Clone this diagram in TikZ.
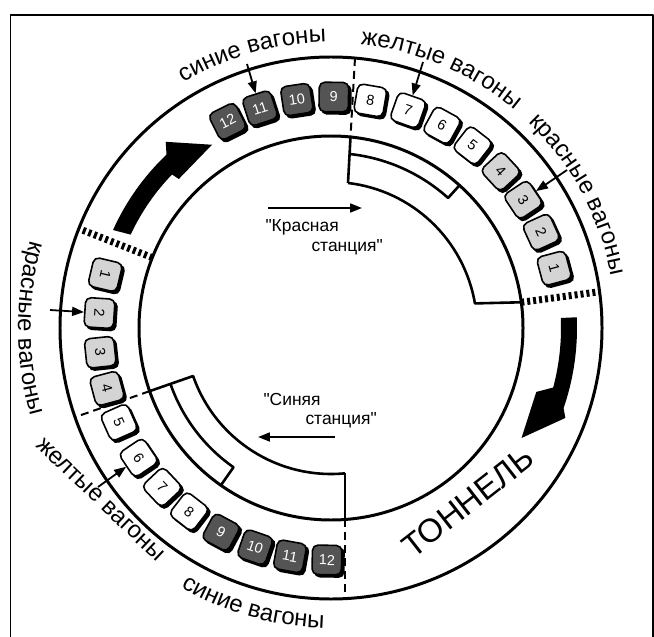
\documentclass[tikz,border=0pt]{standalone}
\usepackage{fontspec}
\setmainfont{Liberation Sans}
\newfontfamily\stfam{Liberation Sans}[Ligatures=TeXOff]
\usetikzlibrary{arrows.meta,decorations.text,calc}
\definecolor{darkcar}{gray}{0.33}
\definecolor{lightcar}{gray}{0.83}
\newcommand\lblfont{\fontsize{24}{24}\selectfont}
\newcommand\stfont{\stfam\fontsize{17.5}{20}\selectfont}
\tikzset{
 ring/.style={line width=3},
 track/.style={line width=2.6},
 divdash/.style={line width=2, dash pattern=on 8 off 5},
 divdot/.style={line width=7, dash pattern=on 3 off 3},
 carbox/.style={draw=black, line width=1.6, rounded corners=5.5, minimum size=29.5, inner sep=0, font=\fontsize{14.5}{14.5}\selectfont},
 carshadow/.style={fill=black, rounded corners=5.5, minimum size=30.5, inner sep=0},
 lblarrow/.style={line width=1.8, -{Triangle[length=12,width=9]}},
 curvedlabel/.style={decorate, decoration={text along path, text align=center, text={#1}}},
}
\begin{document}
\begin{tikzpicture}[x=1bp,y=-1bp,line join=round]
\useasboundingbox (0,0) rectangle (654,637);
\draw[line width=1.5] (10.5,637) -- (10.5,15) -- (653,15) -- (653,637);
\coordinate (C) at (331,328);
\begin{scope}[shift={(C)}]
 \draw[ring] (0,0) circle[radius=271];
 \draw[ring] (0,0) circle[radius=192];
 % red station
 \draw[track] (-83.3:146) arc[start angle=-83.3,end angle=-9.7,radius=146] -- (-7.7:192);
 \draw[track] (-83.9:175) arc[start angle=-83.9,end angle=-48,radius=175] -- (-48:192);
 % blue station
 \draw[track] (-199.2:192) -- (-199.2:146) arc[start angle=-199.2,end angle=-275.5,radius=146];
 \draw[track] (-199.2:170) arc[start angle=-199.2,end angle=-235,radius=170] -- (-235:192);
 \draw[divdash] (-199.2:192) -- (-199.2:271);
 \draw[divdot] (-158.5:192) -- (-158.5:271);
 \draw[divdot] (-7.7:192) -- (-7.7:271);
 % big arrows
 \fill (-2.5:246) arc[start angle=-2.5,end angle=19,radius=246] -- (21:251) -- (30:220) -- (17.3:215) -- (15:230) arc[start angle=15,end angle=-2.5,radius=230] -- cycle;
 \fill (-155:221) arc[start angle=-155,end angle=-136,radius=221] -- (-135.6:213) -- (-123:218.5) -- (-131.6:249) -- (-133.5:239) arc[start angle=-133.5,end angle=-155.8,radius=239] -- cycle;
 % curved labels
 \path[curvedlabel={|\lblfont|синие вагоны}] (-136:286) arc[start angle=-136,end angle=-76,radius=286];
 \path[curvedlabel={|\lblfont|желтые вагоны}] (-97:285) arc[start angle=-97,end angle=-37,radius=285];
 \path[curvedlabel={|\lblfont|красные вагоны}] (-58.4:285) arc[start angle=-58.4,end angle=1.6,radius=285];
 \path[curvedlabel={|\lblfont|красные вагоны}] (-150:313) arc[start angle=-150,end angle=-210,radius=313];
 \path[curvedlabel={|\lblfont|синие вагоны}] (-224.3:300) arc[start angle=-224.3,end angle=-284.3,radius=300];
\end{scope}
% station end lines
\draw[divdash] (355,58) -- (350.5,137);
\draw[track] (350.5,137) -- (348,183);
\draw[track] (345,473) -- (345,519.5);
\draw[divdash] (345,519.5) -- (345,598.6);
% wagons, upper group
\foreach \k/\a in {1/15.0,2/24.5,3/33.7,4/42.7,5/52.2,6/61.3,7/70.5,8/80.2,9/89.3,10/98.5,11/107.9,12/116.6}{
  \pgfmathsetmacro\rot{\a-90}
  \ifnum\k<5 \def\fc{lightcar}\def\tc{black}\else\ifnum\k<9 \def\fc{white}\def\tc{black}\else\def\fc{darkcar}\def\tc{white}\fi\fi
  \path (C) ++(-\a:231) coordinate (t\k);
  \node[carshadow, rotate=\rot] (ts\k) at ([shift={(2.5,2.5)}]t\k) {};
  \node[carbox, fill=\fc, text=\tc, rotate=\rot] (tw\k) at (t\k) {\k};
}
% wagons, lower group
\foreach \k/\a in {1/166.7,2/176.3,3/186.0,4/195.1,5/204.0,6/214.0,7/223.3,8/232.3,9/241.7,10/250.9,11/259.8,12/269.0}{
  \pgfmathsetmacro\rot{\a+90}
  \ifnum\k<5 \def\fc{lightcar}\def\tc{black}\else\ifnum\k<9 \def\fc{white}\def\tc{black}\else\def\fc{darkcar}\def\tc{white}\fi\fi
  \path (C) ++(-\a:232) coordinate (b\k);
  \node[carshadow, rotate=\rot] (bs\k) at ([shift={(2.5,2.5)}]b\k) {};
  \node[carbox, fill=\fc, text=\tc, rotate=\rot] (bw\k) at (b\k) {\k};
}
% straight labels
\node[rotate=-43.6, anchor=base, font=\lblfont] (lblyb) at (96,504) {желтые вагоны};
\node[rotate=38, font=\fontsize{33}{33}\selectfont] (tunnel) at (468,502) {ТОННЕЛЬ};
\node[anchor=base west, font=\stfont] (rs1) at (262,231) {"Красная};
\node[anchor=base west, font=\stfont] (rs2) at (308,251) {станция"};
\node[anchor=base west, font=\stfont] (bsl1) at (260,405) {"Синяя};
\node[anchor=base west, font=\stfont] (bsl2) at (302,424) {станция"};
% label arrows
\coordinate (ra1) at (268,208); \coordinate (ra2) at (362,208);
\draw[lblarrow] (ra1) -- (ra2);
\coordinate (ba1) at (335,437); \coordinate (ba2) at (258,437);
\draw[lblarrow] (ba1) -- (ba2);
\coordinate (p1) at (247,64); \draw[lblarrow] (p1) -- (tw11);
\coordinate (p2) at (423,62); \draw[lblarrow] (p2) -- (tw7);
\coordinate (p3) at (567,170); \draw[lblarrow] (p3) -- (tw3);
\coordinate (p4) at (50,310); \draw[lblarrow] (p4) -- (bw2);
\coordinate (p5) at (98,487); \draw[lblarrow] (p5) -- (bw6);
\end{tikzpicture}
\end{document}
